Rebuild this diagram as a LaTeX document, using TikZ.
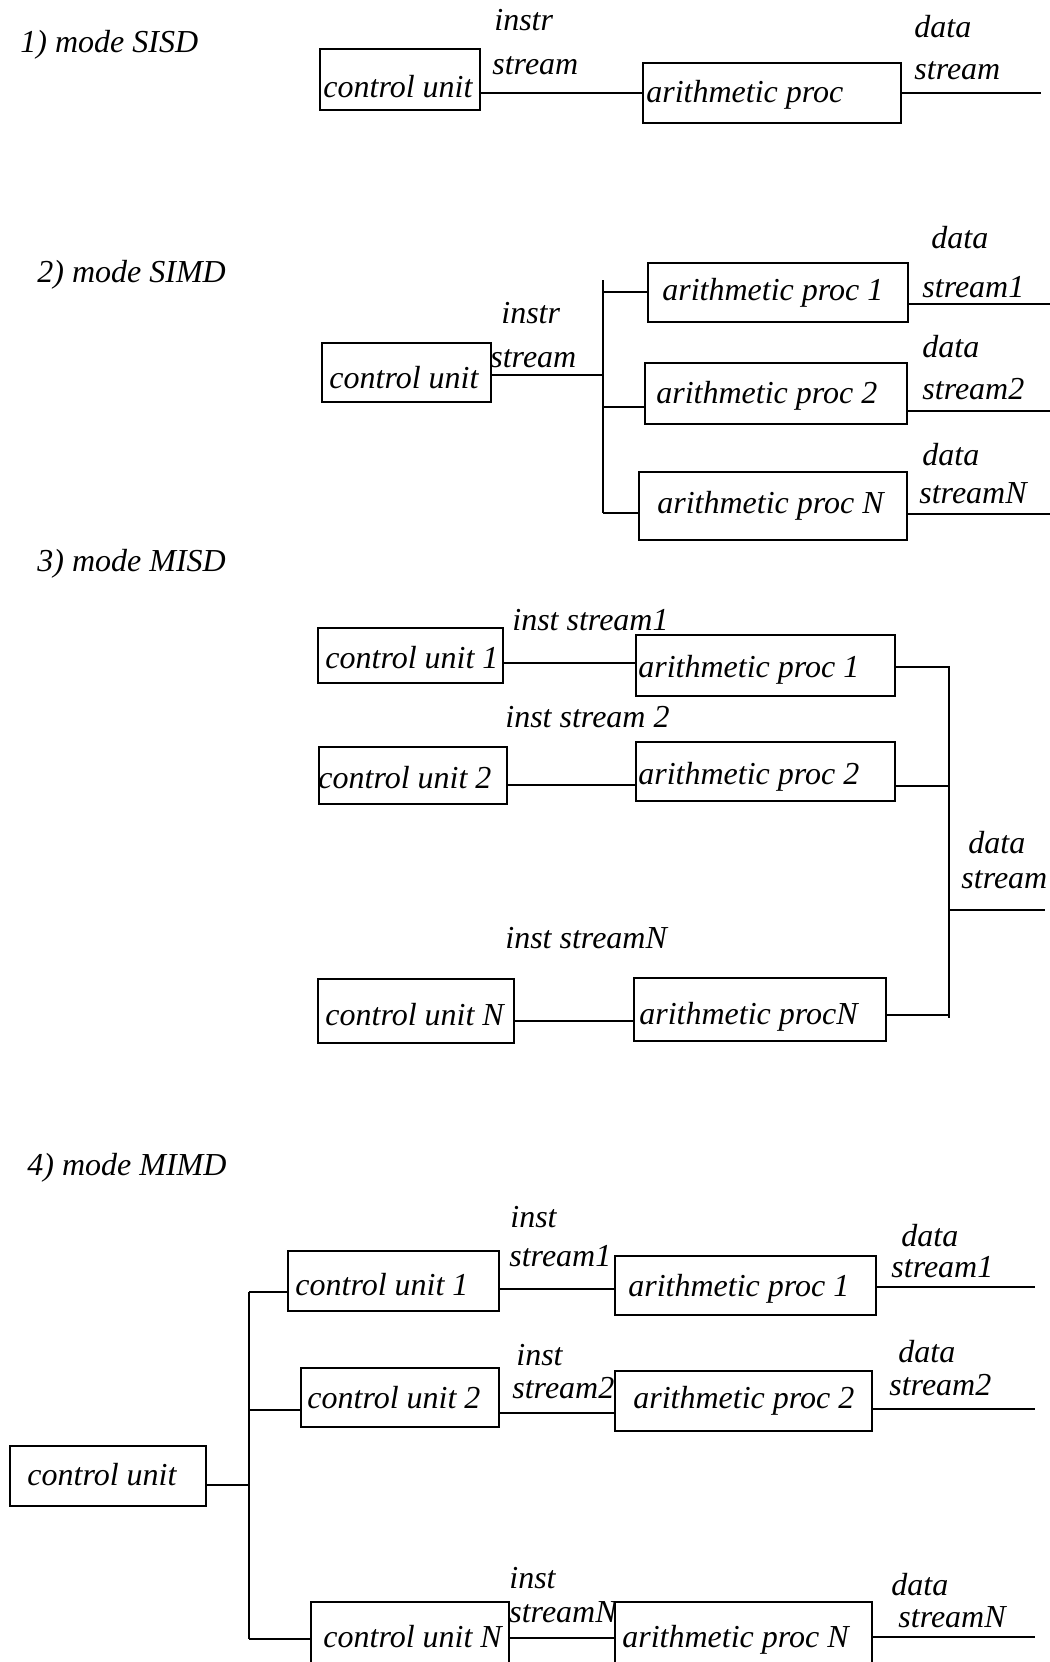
\documentclass[tikz,border=0pt]{standalone}
\usepackage{fontspec}
\setmainfont{Liberation Serif}
\usetikzlibrary{fit}
\begin{document}
\begin{tikzpicture}[x=0.5pt,y=-0.5pt,
  unit/.style={draw, line width=1.2pt, inner sep=0pt, fit={#1}},
  lbl/.style={anchor=base west, inner sep=0pt, font=\itshape\fontsize{16}{19}\selectfont},
  wire/.style={line width=1.2pt}]
\useasboundingbox (0,0) rectangle (1050,1662);
\clip (0,0) rectangle (1050,1662);

% ---------- 1) SISD ----------
\node[lbl] (t1) at (20,52) {1) mode SISD};
\node[unit={(320,49) (480,110)}] (s1cu) {};
\node[lbl] (s1cut) at (323,97) {control unit};
\node[lbl] (s1i1) at (494,30) {instr};
\node[lbl] (s1i2) at (492,74) {stream};
\node[unit={(643,63) (901,123)}] (s1ap) {};
\node[lbl] (s1apt) at (646,102) {arithmetic proc};
\node[lbl] (s1d1) at (914,37) {data};
\node[lbl] (s1d2) at (914,79) {stream};
\coordinate (s1out) at (1041,93);
\draw[wire] (s1cu.east |- 0,93) -- (s1ap.west |- 0,93);
\draw[wire] (s1ap.east |- s1out) -- (s1out);

% ---------- 2) SIMD ----------
\node[lbl] (t2) at (37,282) {2) mode SIMD};
\node[unit={(322,343) (491,402)}] (s2cu) {};
\node[lbl] (s2cut) at (329,388) {control unit};
\node[lbl] (s2i1) at (501,323) {instr};
\node[lbl] (s2i2) at (490,367) {stream};
\coordinate (s2bt) at (603,280);
\coordinate (s2bb) at (603,513);
\node[unit={(648,263) (908,322)}] (s2ap1) {};
\node[lbl] (s2ap1t) at (662,300) {arithmetic proc 1};
\node[unit={(645,363) (907,424)}] (s2ap2) {};
\node[lbl] (s2ap2t) at (656,403) {arithmetic proc 2};
\node[unit={(639,472) (907,540)}] (s2apn) {};
\node[lbl] (s2apnt) at (657,513) {arithmetic proc N};
\node[lbl] (s2d1a) at (931,248) {data};
\node[lbl] (s2d1b) at (922,297) {stream1};
\node[lbl] (s2d2a) at (922,357) {data};
\node[lbl] (s2d2b) at (922,399) {stream2};
\node[lbl] (s2dna) at (922,465) {data};
\node[lbl] (s2dnb) at (919,503) {streamN};
\coordinate (s2o1) at (1050,304);
\coordinate (s2o2) at (1050,411);
\coordinate (s2on) at (1050,514);
\draw[wire] (s2cu.east |- 0,375) -- (s2bt |- 0,375);
\draw[wire] (s2bt) -- (s2bb);
\draw[wire] (s2bt |- 0,292) -- (s2ap1.west |- 0,292);
\draw[wire] (s2bt |- 0,407) -- (s2ap2.west |- 0,407);
\draw[wire] (s2bb) -- (s2apn.west |- s2bb);
\draw[wire] (s2ap1.east |- s2o1) -- (s2o1);
\draw[wire] (s2ap2.east |- s2o2) -- (s2o2);
\draw[wire] (s2apn.east |- s2on) -- (s2on);

% ---------- 3) MISD ----------
\node[lbl] (t3) at (37,571) {3) mode MISD};
\node[unit={(318,628) (503,683)}] (s3cu1) {};
\node[lbl] (s3cu1t) at (325,668) {control unit 1};
\node[lbl] (s3i1) at (512,630) {inst stream1};
\node[unit={(636,635) (895,696)}] (s3ap1) {};
\node[lbl] (s3ap1t) at (638,677) {arithmetic proc 1};
\node[lbl] (s3i2) at (505,727) {inst stream 2};
\node[unit={(319,747) (507,804)}] (s3cu2) {};
\node[lbl] (s3cu2t) at (318,788) {control unit 2};
\node[unit={(636,742) (895,801)}] (s3ap2) {};
\node[lbl] (s3ap2t) at (638,784) {arithmetic proc 2};
\node[lbl] (s3d1) at (968,853) {data};
\node[lbl] (s3d2) at (961,888) {stream};
\node[lbl] (s3in) at (505,948) {inst streamN};
\node[unit={(318,979) (514,1043)}] (s3cun) {};
\node[lbl] (s3cunt) at (325,1025) {control unit N};
\node[unit={(634,978) (886,1041)}] (s3apn) {};
\node[lbl] (s3apnt) at (639,1024) {arithmetic procN};
\coordinate (s3bt) at (949,667);
\coordinate (s3bb) at (949,1018);
\coordinate (s3out) at (1045,910);
\draw[wire] (s3cu1.east |- 0,663) -- (s3ap1.west |- 0,663);
\draw[wire] (s3cu2.east |- 0,785) -- (s3ap2.west |- 0,785);
\draw[wire] (s3cun.east |- 0,1021) -- (s3apn.west |- 0,1021);
\draw[wire] (s3ap1.east |- s3bt) -- (s3bt) -- (s3bb);
\draw[wire] (s3ap2.east |- 0,786) -- (s3bt |- 0,786);
\draw[wire] (s3apn.east |- 0,1015) -- (s3bt |- 0,1015);
\draw[wire] (s3bt |- s3out) -- (s3out);

% ---------- 4) MIMD ----------
\node[lbl] (t4) at (27,1175) {4) mode MIMD};
\node[unit={(10,1446) (206,1506)}] (s4cu) {};
\node[lbl] (s4cut) at (27,1485) {control unit};
\node[unit={(288,1251) (499,1311)}] (s4cu1) {};
\node[lbl] (s4cu1t) at (295,1295) {control unit 1};
\node[lbl] (s4i1a) at (510,1227) {inst};
\node[lbl] (s4i1b) at (509,1266) {stream1};
\node[unit={(615,1256) (876,1315)}] (s4ap1) {};
\node[lbl] (s4ap1t) at (628,1296) {arithmetic proc 1};
\node[lbl] (s4d1a) at (901,1246) {data};
\node[lbl] (s4d1b) at (891,1277) {stream1};
\node[unit={(301,1368) (499,1427)}] (s4cu2) {};
\node[lbl] (s4cu2t) at (307,1408) {control unit 2};
\node[lbl] (s4i2a) at (516,1365) {inst};
\node[lbl] (s4i2b) at (512,1398) {stream2};
\node[unit={(615,1371) (872,1431)}] (s4ap2) {};
\node[lbl] (s4ap2t) at (633,1408) {arithmetic proc 2};
\node[lbl] (s4d2a) at (898,1362) {data};
\node[lbl] (s4d2b) at (889,1395) {stream2};
\node[unit={(311,1602) (509,1700)}] (s4cun) {};
\node[lbl] (s4cunt) at (323,1647) {control unit N};
\node[lbl] (s4ina) at (509,1588) {inst};
\node[lbl] (s4inb) at (509,1622) {streamN};
\node[unit={(615,1602) (872,1700)}] (s4apn) {};
\node[lbl] (s4apnt) at (622,1647) {arithmetic proc N};
\node[lbl] (s4dna) at (891,1595) {data};
\node[lbl] (s4dnb) at (898,1627) {streamN};
\coordinate (s4bt) at (249,1292);
\coordinate (s4bb) at (249,1639);
\coordinate (s4o1) at (1035,1287);
\coordinate (s4o2) at (1035,1409);
\coordinate (s4on) at (1035,1637);
\draw[wire] (s4bt) -- (s4bb);
\draw[wire] (s4cu.east |- 0,1485) -- (s4bt |- 0,1485);
\draw[wire] (s4bt) -- (s4cu1.west |- s4bt);
\draw[wire] (s4bt |- 0,1410) -- (s4cu2.west |- 0,1410);
\draw[wire] (s4bb) -- (s4cun.west |- s4bb);
\draw[wire] (s4cu1.east |- 0,1289) -- (s4ap1.west |- 0,1289);
\draw[wire] (s4cu2.east |- 0,1413) -- (s4ap2.west |- 0,1413);
\draw[wire] (s4cun.east |- 0,1638) -- (s4apn.west |- 0,1638);
\draw[wire] (s4ap1.east |- s4o1) -- (s4o1);
\draw[wire] (s4ap2.east |- s4o2) -- (s4o2);
\draw[wire] (s4apn.east |- s4on) -- (s4on);
\end{tikzpicture}
\end{document}
